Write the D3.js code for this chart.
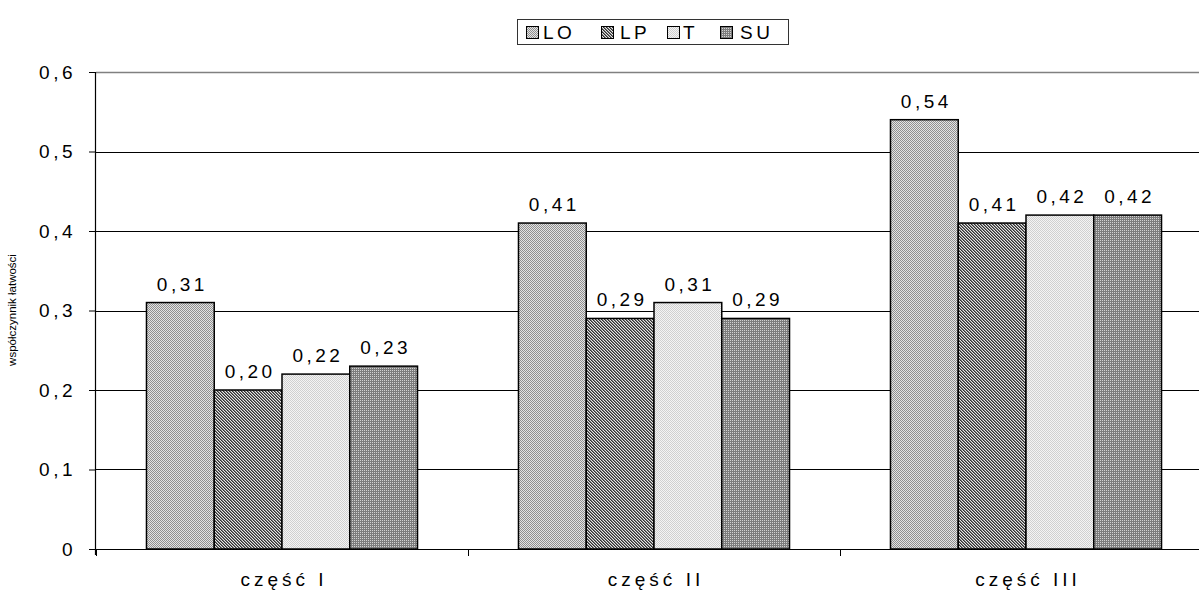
<!DOCTYPE html>
<html><head><meta charset="utf-8">
<script src="https://cdn.jsdelivr.net/npm/d3@7"></script>
<style>
html,body{margin:0;padding:0;background:#fff;}
svg{display:block;font-family:"Liberation Sans",Arial,sans-serif;}
</style></head>
<body>
<svg id="chart" width="1199" height="591"></svg>
<script>
const categories = ["część I", "część II", "część III"];
const seriesNames = ["LO", "LP", "T", "SU"];
const valuesLO = [0.31, 0.41, 0.54];
const valuesLP = [0.20, 0.29, 0.41];
const valuesT  = [0.22, 0.31, 0.42];
const valuesSU = [0.23, 0.29, 0.42];
const labelsLO = ["0,31", "0,41", "0,54"];
const labelsLP = ["0,20", "0,29", "0,41"];
const labelsT  = ["0,22", "0,31", "0,42"];
const labelsSU = ["0,23", "0,29", "0,42"];
const yTicks = [0, 0.1, 0.2, 0.3, 0.4, 0.5, 0.6];
const yTickLabels = ["0", "0,1", "0,2", "0,3", "0,4", "0,5", "0,6"];
const yTitle = "współczynnik łatwości";

const seriesValues = [valuesLO, valuesLP, valuesT, valuesSU];
const seriesLabels = [labelsLO, labelsLP, labelsT, labelsSU];

const svg = d3.select("#chart");
const defs = svg.append("defs");

function checker(id, a, b) {
  const p = defs.append("pattern").attr("id", id).attr("patternUnits", "userSpaceOnUse").attr("width", 2).attr("height", 2);
  p.append("rect").attr("width", 2).attr("height", 2).attr("fill", a);
  p.append("rect").attr("width", 1).attr("height", 1).attr("fill", b);
  p.append("rect").attr("x", 1).attr("y", 1).attr("width", 1).attr("height", 1).attr("fill", b);
}
checker("pLO", "#e4e4e4", "#909090");
checker("pT", "#f4f4f4", "#d0d0d0");
{
  const p = defs.append("pattern").attr("id", "pLP").attr("patternUnits", "userSpaceOnUse").attr("width", 3).attr("height", 3);
  p.append("rect").attr("width", 3).attr("height", 3).attr("fill", "#e6e6e6");
  p.append("rect").attr("x", 0).attr("y", 0).attr("width", 1).attr("height", 1).attr("fill", "#303030");
  p.append("rect").attr("x", 1).attr("y", 1).attr("width", 1).attr("height", 1).attr("fill", "#303030");
  p.append("rect").attr("x", 2).attr("y", 2).attr("width", 1).attr("height", 1).attr("fill", "#303030");
  p.append("rect").attr("x", 1).attr("y", 0).attr("width", 1).attr("height", 1).attr("fill", "#7a7a7a");
  p.append("rect").attr("x", 2).attr("y", 1).attr("width", 1).attr("height", 1).attr("fill", "#7a7a7a");
  p.append("rect").attr("x", 0).attr("y", 2).attr("width", 1).attr("height", 1).attr("fill", "#7a7a7a");
}
{
  const p = defs.append("pattern").attr("id", "pSU").attr("patternUnits", "userSpaceOnUse").attr("width", 2).attr("height", 2);
  p.append("rect").attr("width", 2).attr("height", 2).attr("fill", "#7c7c7c");
  p.append("rect").attr("width", 1).attr("height", 1).attr("fill", "#d2d2d2");
}
const fills = ["url(#pLO)", "url(#pLP)", "url(#pT)", "url(#pSU)"];

const mLeft = 96, mTop = 72, mBottom = 549, plotRight = 1212;
const y = d3.scaleLinear().domain([0, 0.6]).range([mBottom, mTop]);
const x0 = d3.scaleBand().domain(categories).range([mLeft, plotRight]).padding(0);
const bw = x0.bandwidth();
const x1 = d3.scaleBand().domain(seriesNames).range([bw * 0.1357, bw * 0.8643]).padding(0);

// gridlines
svg.append("g").selectAll("line").data(yTicks.slice(1)).join("line")
  .attr("x1", mLeft).attr("x2", 1199)
  .attr("y1", d => Math.round(y(d)) + 0.5).attr("y2", d => Math.round(y(d)) + 0.5)
  .attr("stroke", (d, i) => i === yTicks.length - 2 ? "#808080" : "#000")
  .attr("stroke-width", (d, i) => i === yTicks.length - 2 ? 1.5 : 1);

// bars
const groups = svg.append("g").selectAll("g").data(categories).join("g")
  .attr("transform", d => `translate(${x0(d)},0)`);
seriesNames.forEach((s, si) => {
  groups.append("rect")
    .attr("x", (d, ci) => x1(s))
    .attr("y", (d, ci) => y(seriesValues[si][ci]))
    .attr("width", x1.bandwidth())
    .attr("height", (d, ci) => y(0) - y(seriesValues[si][ci]))
    .attr("fill", fills[si])
    .attr("stroke", "#000").attr("stroke-width", 1.5);
  groups.append("text")
    .attr("x", (d, ci) => x1(s) + x1.bandwidth() / 2 + 2)
    .attr("y", (d, ci) => y(seriesValues[si][ci]) - 12)
    .attr("text-anchor", "middle")
    .attr("font-size", 19).attr("letter-spacing", 3.5)
    .attr("fill", "#000")
    .text((d, ci) => seriesLabels[si][ci]);
});

// y axis
const yAxis = d3.axisLeft(y).tickValues(yTicks).tickSize(7).tickPadding(14)
  .tickFormat((d, i) => yTickLabels[i]);
const gy = svg.append("g").attr("transform", `translate(${mLeft},0)`).call(yAxis);
gy.select(".domain").attr("stroke", "#000").attr("stroke-width", 1.2).attr("d", `M-0.5,${mTop}V${mBottom + 6}`);
gy.selectAll(".tick line").attr("stroke", "#000");
gy.selectAll(".tick text").attr("font-size", 19).attr("letter-spacing", 3.5)
  .attr("font-family", "'Liberation Sans',Arial,sans-serif").attr("fill", "#000").attr("dx", 1);

// x axis
const xAxis = d3.axisBottom(x0).tickSize(0).tickPadding(24);
const gx = svg.append("g").attr("transform", `translate(0,${mBottom})`).call(xAxis);
gx.select(".domain").attr("stroke", "#000").attr("stroke-width", 1.2).attr("d", `M${mLeft},0.5H1199`);
gx.selectAll(".tick text").attr("font-size", 19).attr("letter-spacing", 4)
  .attr("font-family", "'Liberation Sans',Arial,sans-serif").attr("fill", "#000").attr("dx", 2);
svg.append("g").selectAll("line").data(categories).join("line")
  .attr("x1", d => x0(d) + 0.5).attr("x2", d => x0(d) + 0.5)
  .attr("y1", mBottom).attr("y2", mBottom + 7).attr("stroke", "#000");

// y title
svg.append("text").attr("transform", `translate(16,310) rotate(-90)`)
  .attr("text-anchor", "middle").attr("font-size", 11.5).attr("fill", "#000").text(yTitle);

// legend
const lg = svg.append("g");
lg.append("rect").attr("x", 517.5).attr("y", 19.5).attr("width", 271).attr("height", 25)
  .attr("fill", "#fff").attr("stroke", "#333").attr("stroke-width", 1);
const legX = [526, 601, 667, 720];
const legTX = [543, 620, 683, 740];
seriesNames.forEach((s, i) => {
  lg.append("rect").attr("x", legX[i] + 0.5).attr("y", 26.5).attr("width", 12).attr("height", 12)
    .attr("fill", fills[i]).attr("stroke", "#000").attr("stroke-width", 1);
  lg.append("text").attr("x", legTX[i]).attr("y", 39).attr("font-size", 19).attr("letter-spacing", 3.5)
    .attr("fill", "#000").text(s);
});
</script>
</body></html>
